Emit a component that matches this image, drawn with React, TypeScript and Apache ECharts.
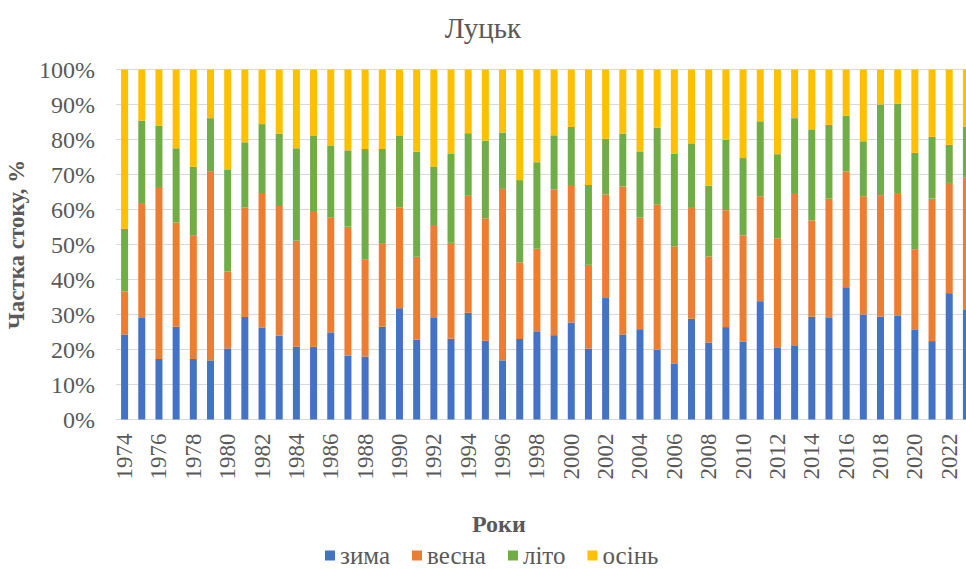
import React, { useEffect, useRef } from "react";
import * as echarts from "echarts";

// Seasonal share of annual river runoff at Lutsk, %
const years: string[] = [];
for (let y = 1974; y <= 2023; y++) years.push(String(y));

const zyma = [
  24.3, 29.2, 17.3, 26.5, 17.3, 16.9, 20.3, 29.3, 26.3, 23.9,
  20.8, 20.8, 24.9, 18.2, 18.0, 26.5, 31.8, 22.8, 29.2, 23.1,
  30.5, 22.5, 16.9, 23.0, 25.2, 24.1, 27.7, 20.3, 34.7, 24.3,
  25.8, 19.9, 15.9, 28.8, 22.0, 26.4, 22.2, 33.8, 20.6, 21.0,
  29.4, 29.0, 37.8, 30.0, 29.4, 29.6, 25.6, 22.4, 36.1, 31.3,
];
const vesna = [
  12.3, 32.4, 49.1, 29.8, 35.2, 54.0, 22.0, 31.3, 38.4, 37.1,
  30.3, 38.5, 32.9, 36.9, 27.8, 23.9, 28.8, 23.7, 26.1, 27.4,
  33.6, 35.0, 49.0, 21.9, 23.6, 41.6, 39.3, 23.9, 29.6, 42.3,
  31.9, 41.5, 33.6, 31.9, 24.6, 33.4, 30.4, 30.0, 31.2, 43.7,
  27.5, 34.1, 33.1, 33.8, 34.7, 35.1, 22.9, 40.7, 31.5, 37.8,
];
const lito = [
  17.9, 23.8, 17.5, 21.2, 19.7, 15.2, 29.0, 18.6, 19.7, 20.7,
  26.4, 21.7, 20.5, 21.8, 31.5, 26.9, 20.4, 30.0, 17.0, 25.4,
  17.7, 22.2, 16.1, 23.5, 24.7, 15.5, 16.6, 22.8, 15.9, 15.1,
  18.9, 22.0, 26.4, 18.2, 20.2, 20.1, 22.1, 21.4, 24.0, 21.4,
  26.0, 21.1, 15.9, 15.7, 25.9, 25.5, 27.7, 17.7, 10.9, 14.6,
];
const osin = [
  45.5, 14.6, 16.1, 22.5, 27.8, 13.9, 28.7, 20.8, 15.6, 18.3,
  22.5, 19.0, 21.7, 23.1, 22.7, 22.7, 19.0, 23.5, 27.7, 24.1,
  18.2, 20.3, 18.0, 31.6, 26.5, 18.8, 16.4, 33.0, 19.8, 18.3,
  23.4, 16.6, 24.1, 21.1, 33.2, 20.1, 25.3, 14.8, 24.2, 13.9,
  17.1, 15.8, 13.2, 20.5, 10.0, 9.8, 23.8, 19.2, 21.5, 16.3,
];

const seasonNames = ["зима", "весна", "літо", "осінь"];
const seasonColors = ["#4472C4", "#ED7D31", "#70AD47", "#FFC000"];
const seasonData = [zyma, vesna, lito, osin];

const FONT = '"Liberation Serif", serif';
const TEXT = "#595959";

export default function App() {
  const ref = useRef<HTMLDivElement>(null);

  useEffect(() => {
    if (!ref.current) return;
    const chart = echarts.init(ref.current, null, { renderer: "svg" });
    chart.setOption({
      animation: false,
      backgroundColor: "#ffffff",
      textStyle: { fontFamily: FONT, color: TEXT },
      title: {
        text: "Луцьк",
        left: "center",
        top: 8,
        textStyle: { fontFamily: FONT, fontSize: 29, fontWeight: "normal", color: TEXT },
      },
      legend: {
        left: 325,
        top: 543,
        padding: 0,
        itemWidth: 10,
        itemHeight: 10,
        itemGap: 22,
        icon: "rect",
        data: seasonNames,
        textStyle: { fontFamily: FONT, fontSize: 25, color: TEXT },
      },
      graphic: [
        {
          type: "text",
          left: 472,
          top: 512,
          style: { text: "Роки", font: `bold 24px ${FONT}`, fill: TEXT },
        },
      ],
      grid: {
        left: 116,
        right: -9,
        top: 69.5,
        bottom: 149.5,
        containLabel: false,
        outerBoundsMode: "none",
      },
      xAxis: {
        type: "category",
        data: years,
        axisLine: { lineStyle: { color: "#d9d9d9", width: 1 } },
        axisTick: { show: false },
        axisLabel: {
          rotate: 90,
          interval: 1,
          margin: 14,
          fontFamily: FONT,
          fontSize: 23,
          color: TEXT,
        },
      },
      yAxis: {
        type: "value",
        min: 0,
        max: 100,
        interval: 10,
        name: "Частка стоку, %",
        nameLocation: "middle",
        nameGap: 80,
        nameTextStyle: { fontFamily: FONT, fontSize: 23, fontWeight: "bold", color: TEXT },
        axisLine: { show: false },
        axisTick: { show: false },
        splitLine: { lineStyle: { color: "#d9d9d9", width: 1 } },
        axisLabel: {
          formatter: "{value}%",
          margin: 21,
          fontFamily: FONT,
          fontSize: 24,
          color: TEXT,
        },
      },
      series: seasonNames.map((name, i) => ({
        name,
        type: "bar",
        stack: "total",
        barWidth: 7,
        data: seasonData[i],
        itemStyle: { color: seasonColors[i] },
      })),
    });
    return () => chart.dispose();
  }, []);

  return (
    <div
      ref={ref}
      style={{ position: "absolute", left: 0, top: 0, width: 966, height: 569 }}
    />
  );
}
